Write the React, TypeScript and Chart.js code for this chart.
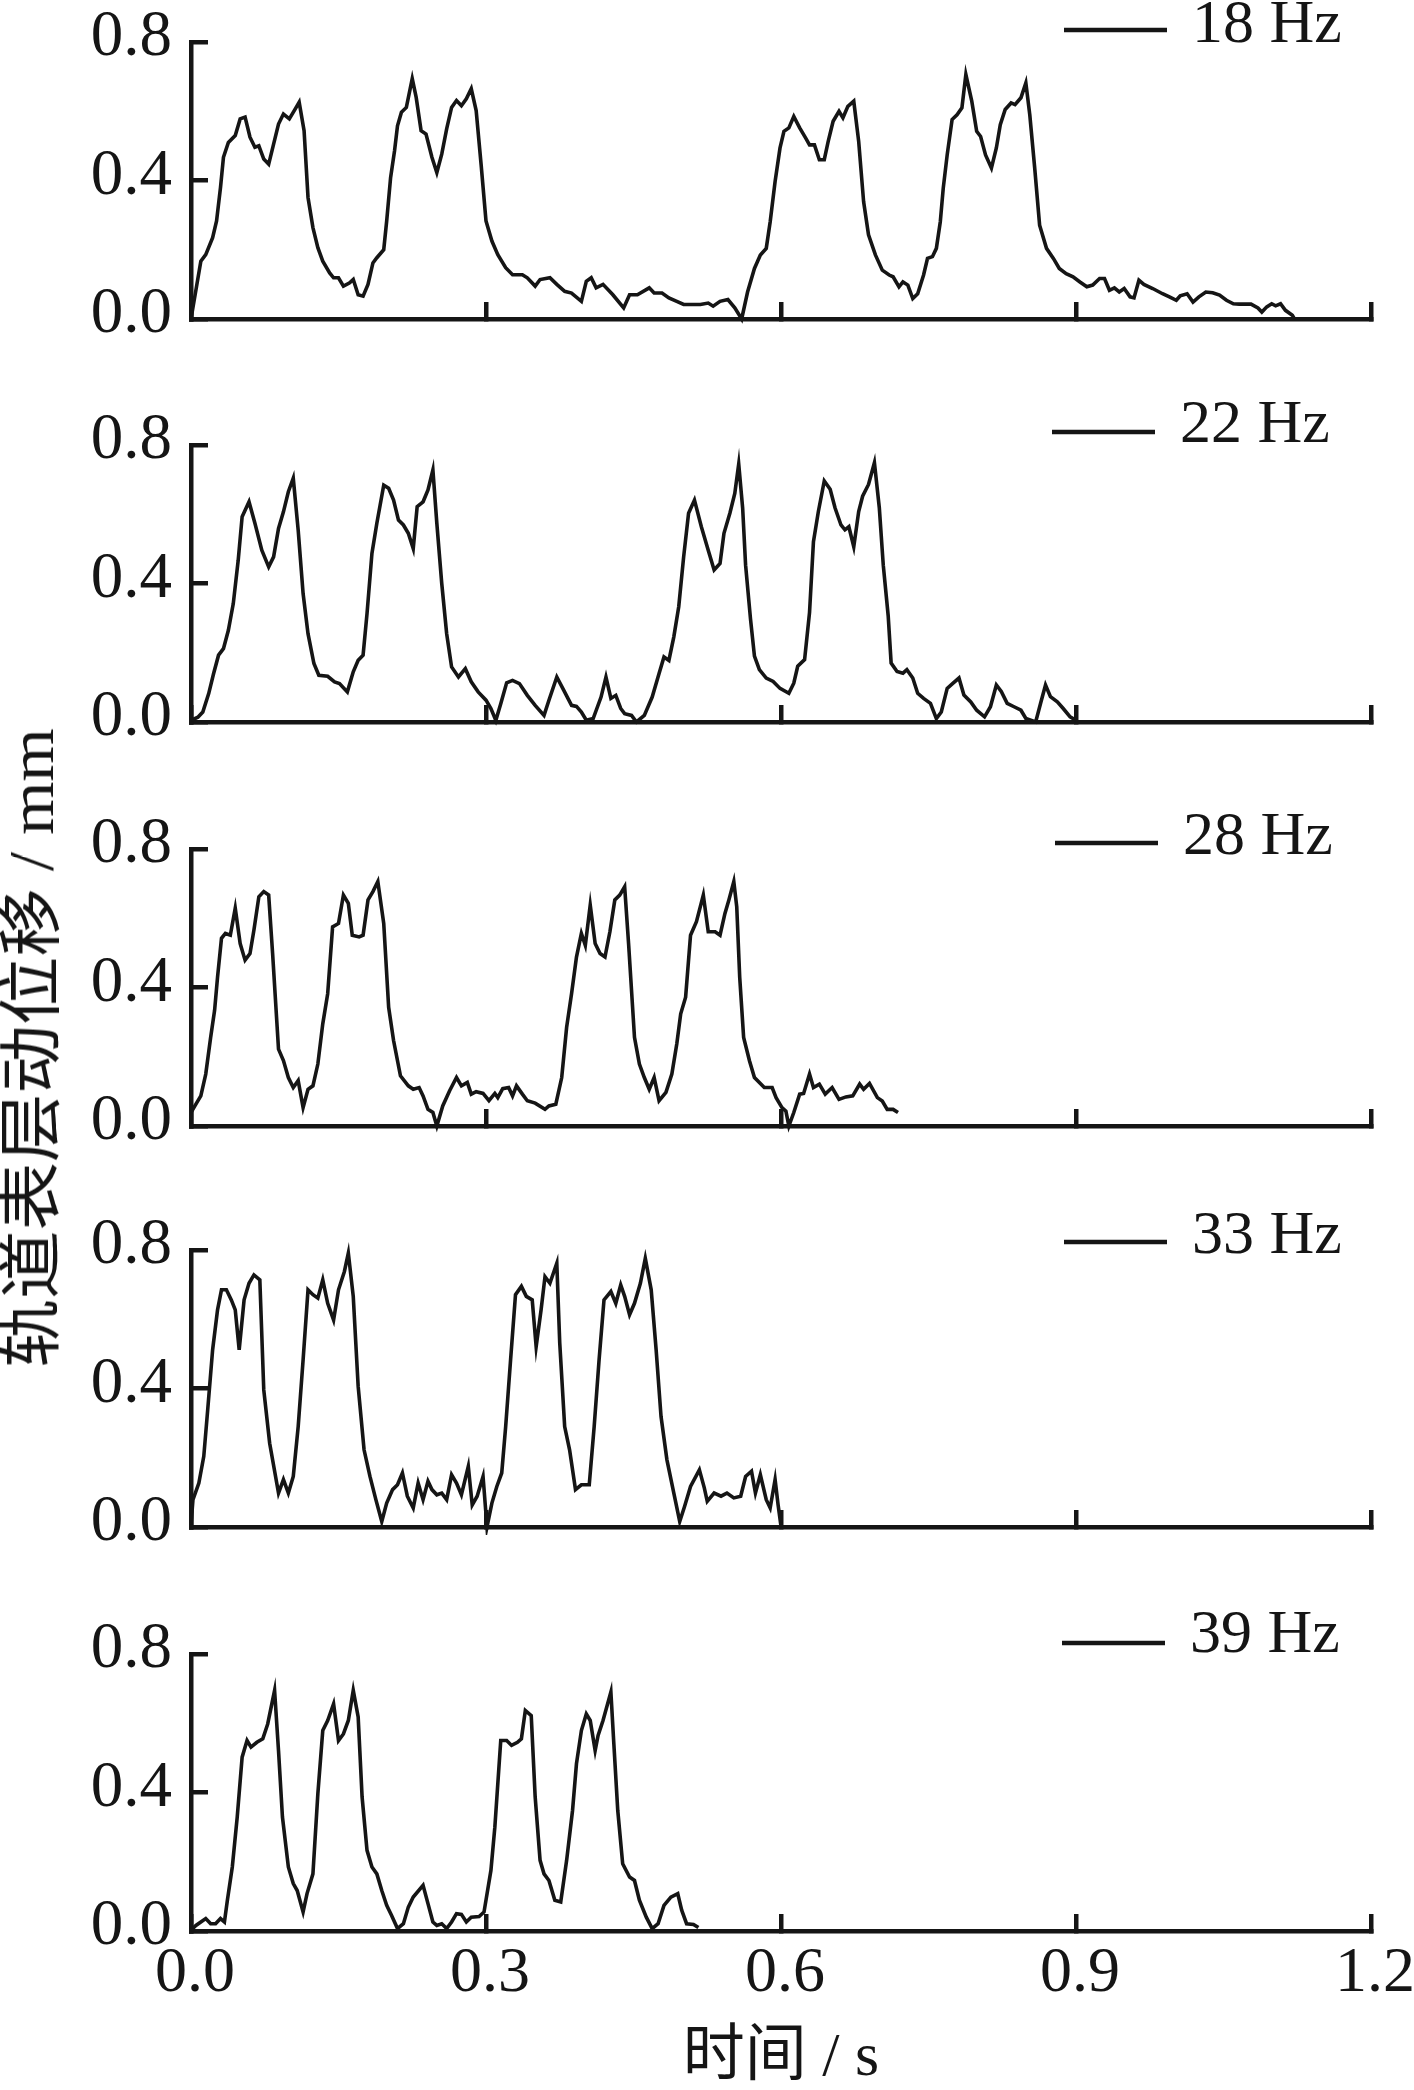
import React, { useEffect, useRef } from 'react';
import { Chart, registerables } from 'chart.js';

Chart.register(...registerables);

// ---------------- data ----------------
const seriesLabels = ['18 Hz', '22 Hz', '28 Hz', '33 Hz', '39 Hz'];
const xTickLabels = ['0.0', '0.3', '0.6', '0.9', '1.2'];
const yTickLabels = ['0.0', '0.4', '0.8'];

const t18 = [0.000,0.010,0.015,0.022,0.026,0.030,0.033,0.038,0.045,0.050,0.055,0.060,0.065,0.069,0.074,0.079,0.084,0.089,0.094,0.100,0.105,0.110,0.115,0.119,0.124,0.129,0.134,0.141,0.145,0.150,0.155,0.161,0.165,0.170,0.175,0.180,0.185,0.189,0.196,0.199,0.203,0.207,0.210,0.214,0.219,0.225,0.229,0.234,0.239,0.245,0.250,0.255,0.260,0.265,0.270,0.275,0.280,0.285,0.290,0.295,0.300,0.306,0.312,0.320,0.327,0.337,0.342,0.350,0.355,0.365,0.372,0.380,0.387,0.397,0.402,0.407,0.412,0.419,0.429,0.440,0.446,0.454,0.466,0.471,0.479,0.486,0.494,0.501,0.518,0.526,0.531,0.538,0.546,0.553,0.560,0.566,0.573,0.579,0.585,0.589,0.594,0.599,0.603,0.608,0.613,0.619,0.625,0.629,0.634,0.639,0.644,0.648,0.653,0.659,0.663,0.668,0.674,0.679,0.684,0.689,0.696,0.703,0.710,0.714,0.720,0.724,0.729,0.734,0.739,0.745,0.749,0.754,0.758,0.762,0.765,0.769,0.774,0.779,0.784,0.788,0.794,0.799,0.803,0.808,0.814,0.819,0.823,0.828,0.834,0.838,0.844,0.849,0.853,0.858,0.863,0.870,0.877,0.883,0.890,0.897,0.904,0.911,0.917,0.924,0.929,0.934,0.939,0.944,0.949,0.955,0.959,0.964,0.969,0.978,0.988,0.995,1.002,1.006,1.013,1.019,1.025,1.032,1.039,1.046,1.053,1.060,1.066,1.078,1.085,1.089,1.094,1.099,1.103,1.108,1.113,1.120,1.122];
const d18 = [0.000,0.167,0.186,0.235,0.283,0.380,0.467,0.510,0.530,0.578,0.583,0.525,0.496,0.500,0.462,0.447,0.505,0.563,0.592,0.578,0.602,0.626,0.544,0.351,0.264,0.206,0.167,0.133,0.119,0.119,0.095,0.104,0.114,0.070,0.066,0.100,0.162,0.177,0.200,0.283,0.409,0.486,0.558,0.597,0.611,0.694,0.640,0.544,0.534,0.467,0.423,0.476,0.549,0.611,0.631,0.616,0.636,0.665,0.602,0.447,0.283,0.225,0.186,0.148,0.128,0.128,0.119,0.095,0.114,0.119,0.100,0.080,0.075,0.051,0.109,0.119,0.090,0.100,0.070,0.032,0.070,0.070,0.090,0.075,0.075,0.061,0.051,0.042,0.042,0.046,0.037,0.051,0.056,0.032,0.000,0.078,0.146,0.185,0.204,0.281,0.397,0.494,0.542,0.552,0.585,0.552,0.523,0.503,0.503,0.460,0.460,0.513,0.571,0.600,0.581,0.614,0.629,0.513,0.339,0.243,0.185,0.141,0.127,0.122,0.093,0.107,0.098,0.059,0.073,0.127,0.175,0.180,0.204,0.281,0.378,0.474,0.576,0.590,0.610,0.706,0.629,0.542,0.527,0.474,0.436,0.494,0.561,0.605,0.624,0.619,0.639,0.682,0.590,0.436,0.271,0.204,0.175,0.146,0.131,0.122,0.107,0.093,0.098,0.117,0.117,0.083,0.090,0.078,0.088,0.064,0.061,0.112,0.100,0.088,0.073,0.064,0.054,0.067,0.073,0.049,0.064,0.078,0.076,0.069,0.054,0.044,0.043,0.043,0.032,0.020,0.035,0.044,0.038,0.044,0.025,0.011,0.001];

const t22 = [0.000,0.007,0.012,0.018,0.023,0.028,0.033,0.038,0.043,0.048,0.052,0.059,0.065,0.072,0.079,0.084,0.089,0.094,0.099,0.104,0.109,0.114,0.119,0.125,0.130,0.139,0.146,0.151,0.159,0.165,0.170,0.175,0.179,0.184,0.189,0.196,0.201,0.206,0.211,0.216,0.221,0.226,0.230,0.236,0.241,0.246,0.250,0.255,0.260,0.265,0.272,0.279,0.285,0.292,0.300,0.305,0.310,0.315,0.321,0.327,0.334,0.342,0.350,0.359,0.364,0.372,0.379,0.387,0.392,0.397,0.402,0.409,0.417,0.422,0.427,0.432,0.437,0.441,0.448,0.453,0.461,0.469,0.476,0.481,0.486,0.491,0.496,0.501,0.506,0.512,0.519,0.526,0.532,0.538,0.542,0.548,0.553,0.557,0.561,0.564,0.569,0.573,0.578,0.585,0.592,0.599,0.608,0.613,0.617,0.624,0.629,0.633,0.638,0.644,0.650,0.655,0.661,0.665,0.669,0.674,0.679,0.683,0.689,0.695,0.700,0.704,0.709,0.712,0.718,0.724,0.728,0.734,0.739,0.745,0.752,0.758,0.763,0.769,0.775,0.781,0.786,0.793,0.799,0.807,0.813,0.819,0.824,0.830,0.837,0.844,0.849,0.859,0.864,0.869,0.874,0.881,0.887,0.894,0.900];
const d22 = [0.005,0.014,0.029,0.082,0.140,0.193,0.212,0.265,0.342,0.467,0.593,0.636,0.574,0.496,0.448,0.477,0.559,0.607,0.665,0.704,0.554,0.371,0.255,0.169,0.135,0.132,0.116,0.111,0.087,0.145,0.178,0.193,0.313,0.487,0.574,0.684,0.675,0.641,0.583,0.569,0.545,0.501,0.622,0.636,0.670,0.728,0.574,0.400,0.255,0.159,0.130,0.154,0.116,0.087,0.063,0.039,0.005,0.053,0.113,0.120,0.111,0.077,0.048,0.019,0.063,0.130,0.092,0.048,0.045,0.029,0.005,0.010,0.072,0.130,0.068,0.077,0.039,0.024,0.019,0.000,0.019,0.072,0.140,0.188,0.178,0.246,0.333,0.477,0.603,0.641,0.564,0.496,0.439,0.458,0.545,0.603,0.660,0.745,0.618,0.453,0.297,0.190,0.151,0.127,0.117,0.097,0.083,0.112,0.161,0.180,0.316,0.521,0.608,0.696,0.672,0.618,0.569,0.555,0.564,0.506,0.608,0.652,0.686,0.749,0.618,0.453,0.307,0.170,0.146,0.141,0.151,0.127,0.083,0.068,0.054,0.010,0.029,0.097,0.112,0.127,0.078,0.058,0.034,0.015,0.044,0.107,0.088,0.054,0.044,0.034,0.010,0.000,0.054,0.107,0.073,0.058,0.039,0.015,0.005];

const t28 = [0.000,0.005,0.010,0.015,0.020,0.024,0.027,0.031,0.035,0.040,0.045,0.050,0.055,0.060,0.064,0.069,0.074,0.079,0.083,0.089,0.094,0.099,0.104,0.109,0.114,0.119,0.124,0.129,0.134,0.139,0.144,0.150,0.155,0.160,0.164,0.171,0.175,0.180,0.185,0.190,0.196,0.201,0.206,0.213,0.221,0.226,0.232,0.236,0.241,0.246,0.250,0.256,0.263,0.270,0.275,0.281,0.285,0.290,0.297,0.303,0.309,0.312,0.317,0.323,0.327,0.331,0.337,0.342,0.350,0.360,0.364,0.371,0.377,0.382,0.387,0.392,0.397,0.401,0.406,0.411,0.416,0.421,0.426,0.431,0.436,0.441,0.445,0.451,0.456,0.461,0.466,0.471,0.476,0.483,0.489,0.494,0.498,0.503,0.508,0.514,0.521,0.526,0.533,0.538,0.543,0.547,0.552,0.555,0.558,0.562,0.568,0.573,0.583,0.591,0.595,0.601,0.605,0.608,0.613,0.619,0.623,0.629,0.633,0.639,0.645,0.652,0.659,0.666,0.673,0.680,0.684,0.690,0.698,0.703,0.708,0.714,0.719];
const d28 = [0.039,0.063,0.087,0.150,0.256,0.334,0.430,0.542,0.556,0.551,0.629,0.527,0.479,0.498,0.566,0.662,0.677,0.667,0.498,0.222,0.189,0.140,0.111,0.131,0.053,0.106,0.116,0.179,0.295,0.382,0.575,0.585,0.667,0.643,0.551,0.546,0.551,0.653,0.677,0.706,0.585,0.343,0.247,0.145,0.116,0.106,0.111,0.087,0.048,0.039,0.000,0.058,0.102,0.140,0.116,0.126,0.092,0.099,0.094,0.073,0.094,0.082,0.108,0.111,0.087,0.116,0.092,0.073,0.066,0.048,0.058,0.063,0.140,0.285,0.382,0.488,0.556,0.522,0.638,0.527,0.498,0.488,0.561,0.653,0.667,0.691,0.527,0.256,0.179,0.140,0.106,0.140,0.073,0.097,0.150,0.237,0.324,0.372,0.551,0.590,0.667,0.561,0.561,0.551,0.614,0.653,0.706,0.633,0.430,0.256,0.188,0.140,0.111,0.111,0.082,0.053,0.043,0.000,0.039,0.092,0.094,0.150,0.111,0.121,0.092,0.111,0.077,0.084,0.087,0.121,0.106,0.123,0.082,0.072,0.048,0.048,0.039];

const t33 = [0.000,0.002,0.008,0.013,0.017,0.022,0.027,0.031,0.036,0.041,0.045,0.049,0.054,0.059,0.064,0.070,0.074,0.080,0.089,0.094,0.099,0.104,0.109,0.114,0.119,0.124,0.129,0.134,0.139,0.145,0.150,0.156,0.160,0.165,0.170,0.176,0.182,0.188,0.194,0.199,0.205,0.210,0.215,0.220,0.226,0.231,0.236,0.241,0.245,0.250,0.255,0.260,0.265,0.270,0.275,0.282,0.286,0.291,0.297,0.301,0.306,0.311,0.316,0.320,0.325,0.330,0.336,0.341,0.347,0.351,0.356,0.360,0.365,0.372,0.375,0.380,0.385,0.391,0.397,0.405,0.410,0.415,0.420,0.427,0.432,0.437,0.441,0.446,0.451,0.457,0.462,0.468,0.473,0.478,0.484,0.491,0.497,0.502,0.508,0.517,0.522,0.525,0.532,0.539,0.545,0.552,0.559,0.564,0.570,0.574,0.579,0.585,0.589,0.594,0.597,0.600];
const d33 = [0.007,0.079,0.127,0.204,0.339,0.512,0.627,0.685,0.685,0.656,0.627,0.512,0.656,0.704,0.728,0.714,0.396,0.242,0.098,0.137,0.098,0.146,0.290,0.483,0.685,0.671,0.661,0.714,0.646,0.598,0.685,0.738,0.791,0.666,0.406,0.223,0.146,0.079,0.016,0.069,0.108,0.122,0.156,0.089,0.055,0.127,0.079,0.132,0.108,0.093,0.098,0.079,0.151,0.127,0.093,0.175,0.064,0.089,0.146,0.000,0.069,0.117,0.156,0.290,0.483,0.671,0.695,0.666,0.656,0.521,0.627,0.723,0.704,0.762,0.531,0.290,0.223,0.108,0.122,0.122,0.290,0.483,0.656,0.680,0.646,0.699,0.666,0.613,0.646,0.704,0.776,0.685,0.512,0.319,0.194,0.098,0.016,0.060,0.117,0.165,0.113,0.074,0.098,0.089,0.098,0.084,0.089,0.146,0.161,0.098,0.151,0.079,0.055,0.137,0.065,0.002];

const t39 = [0.000,0.005,0.010,0.015,0.020,0.025,0.030,0.034,0.037,0.042,0.047,0.052,0.057,0.061,0.067,0.073,0.078,0.085,0.089,0.093,0.099,0.104,0.108,0.114,0.118,0.124,0.129,0.134,0.139,0.145,0.150,0.155,0.160,0.165,0.170,0.174,0.179,0.184,0.189,0.194,0.199,0.204,0.210,0.216,0.221,0.226,0.236,0.241,0.246,0.250,0.255,0.260,0.265,0.270,0.275,0.280,0.285,0.293,0.298,0.305,0.309,0.315,0.321,0.326,0.332,0.336,0.340,0.346,0.350,0.355,0.359,0.364,0.370,0.376,0.382,0.388,0.392,0.397,0.402,0.406,0.411,0.414,0.419,0.427,0.430,0.434,0.439,0.446,0.451,0.456,0.463,0.469,0.475,0.481,0.488,0.495,0.499,0.504,0.511,0.516];
const d39 = [0.002,0.016,0.026,0.036,0.021,0.021,0.036,0.026,0.089,0.185,0.329,0.502,0.550,0.531,0.545,0.555,0.598,0.695,0.521,0.329,0.185,0.137,0.117,0.055,0.108,0.165,0.396,0.579,0.608,0.656,0.550,0.569,0.608,0.695,0.618,0.387,0.233,0.185,0.165,0.117,0.074,0.045,0.007,0.021,0.069,0.098,0.132,0.079,0.026,0.016,0.021,0.007,0.026,0.050,0.048,0.026,0.040,0.042,0.055,0.175,0.300,0.550,0.550,0.536,0.545,0.555,0.637,0.622,0.387,0.204,0.165,0.146,0.089,0.084,0.204,0.348,0.483,0.579,0.627,0.608,0.521,0.565,0.608,0.690,0.541,0.348,0.194,0.156,0.146,0.089,0.040,0.007,0.021,0.074,0.098,0.108,0.060,0.021,0.019,0.010];

const seriesTimes = [t18, t22, t28, t33, t39];
const seriesValues = [d18, d22, d28, d33, d39];

// ---------------- layout / style ----------------
const W = 1414;
const PAGE_H = 2090;
const INK = '#151515';
const FAMILY = "'Liberation Serif', 'Times New Roman', 'Noto Sans CJK SC', serif";
const PLOT_LEFT = 191;
const PAD_RIGHT = 43;
const PAD_TOP = 62;
const PLOT_H = 277;
const AXIS_W = 4.5;
const DATA_W = 3.6;
const PANEL_TOPS = [42, 445, 849, 1250, 1654];
const LEG_TEXT_X = [1192, 1180, 1183, 1192, 1190];
const LEG_TEXT_DY = [-16, -19, -11.5, -13, -18];
const LEG_LINE_DY = [-12, -13, -6, -8, -11];

const lineLegend = {
  id: 'lineLegend',
  afterDraw(chart: any, _args: any, opts: any) {
    const { ctx, chartArea } = chart;
    const ds = chart.data.datasets[0];
    ctx.save();
    ctx.strokeStyle = INK;
    ctx.lineWidth = 4.5;
    ctx.lineCap = 'butt';
    const ly = chartArea.top + opts.lineDy;
    ctx.beginPath();
    ctx.moveTo(opts.textX - 128, ly);
    ctx.lineTo(opts.textX - 25, ly);
    ctx.stroke();
    ctx.fillStyle = INK;
    ctx.font = `62px ${FAMILY}`;
    ctx.textAlign = 'left';
    ctx.textBaseline = 'middle';
    ctx.fillText(ds.label, opts.textX, chartArea.top + opts.textDy);
    ctx.restore();
  },
};

function Panel({ idx }: { idx: number }) {
  const ref = useRef<HTMLCanvasElement | null>(null);
  const isBottom = idx === seriesLabels.length - 1;
  const top = PANEL_TOPS[idx] - PAD_TOP;
  const height = isBottom ? PAGE_H - top : PAD_TOP + PLOT_H + 24;
  const xAxisH = height - PAD_TOP - PLOT_H;

  useEffect(() => {
    const canvas = ref.current;
    if (!canvas) return;
    const ts = seriesTimes[idx];
    const vs = seriesValues[idx];
    const chart = new Chart(canvas, {
      type: 'line',
      data: {
        datasets: [
          {
            label: seriesLabels[idx],
            data: ts.map((t, j) => ({ x: t, y: vs[j] })),
            borderColor: INK,
            borderWidth: DATA_W,
            pointRadius: 0,
            tension: 0,
            fill: false,
            clip: 8,
          },
        ],
      },
      options: {
        responsive: false,
        animation: false,
        devicePixelRatio: 1,
        layout: { padding: { top: PAD_TOP, left: 0, right: PAD_RIGHT, bottom: 0 } },
        plugins: {
          legend: { display: false },
          tooltip: { enabled: false },
          lineLegend: { textX: LEG_TEXT_X[idx], textDy: LEG_TEXT_DY[idx], lineDy: LEG_LINE_DY[idx] },
        } as any,
        scales: {
          x: {
            type: 'linear',
            min: 0,
            max: 1.2,
            afterFit: (s: any) => {
              s.height = xAxisH;
              s.paddingLeft = 0;
              s.paddingRight = 0;
            },
            border: { display: true, color: INK, width: AXIS_W },
            grid: { display: true, drawOnChartArea: false, drawTicks: true, tickLength: -17, color: INK, lineWidth: AXIS_W },
            ticks: {
              display: isBottom,
              stepSize: 0.3,
              padding: 22,
              labelOffset: 4,
              maxRotation: 0,
              minRotation: 0,
              autoSkip: false,
              color: INK,
              font: { family: FAMILY, size: 64 },
              callback: (_v: any, i: number) => xTickLabels[i],
            },
            title: {
              display: isBottom,
              text: '时间 / s',
              color: INK,
              font: { family: FAMILY, size: 62, lineHeight: 1 },
              padding: { top: 0, bottom: 0 },
            },
          },
          y: {
            min: 0,
            max: 0.8,
            afterFit: (s: any) => {
              s.width = PLOT_LEFT;
              s.paddingTop = 0;
              s.paddingBottom = 0;
            },
            border: { display: true, color: INK, width: AXIS_W },
            grid: { display: true, drawOnChartArea: false, drawTicks: true, tickLength: -17, color: INK, lineWidth: AXIS_W },
            ticks: {
              stepSize: 0.4,
              padding: 36,
              labelOffset: -4,
              color: INK,
              font: { family: FAMILY, size: 65 },
              callback: (_v: any, i: number) => yTickLabels[i],
            },
          },
        },
      } as any,
      plugins: [lineLegend as any],
    });
    const ca = chart.chartArea;
    if (ca) canvas.style.top = `${PANEL_TOPS[idx] - ca.top}px`;
    return () => chart.destroy();
  }, [idx]);

  return (
    <canvas
      ref={ref}
      width={W}
      height={height}
      style={{ position: 'absolute', left: 0, top, width: W, height, display: 'block' }}
    />
  );
}

export default function App() {
  return (
    <div
      style={{
        position: 'absolute',
        left: 0,
        top: 0,
        width: W,
        height: PAGE_H,
        background: '#ffffff',
        overflow: 'hidden',
      }}
    >
      {seriesLabels.map((_, i) => (
        <Panel key={i} idx={i} />
      ))}
      <div
        style={{
          position: 'absolute',
          left: 32,
          top: 1048,
          transform: 'translate(-50%, -50%) rotate(-90deg) scaleX(1.07)',
          whiteSpace: 'nowrap',
          fontFamily: FAMILY,
          fontSize: 64,
          lineHeight: 1,
          color: INK,
        }}
      >
        轨道表层动位移 / mm
      </div>
    </div>
  );
}
